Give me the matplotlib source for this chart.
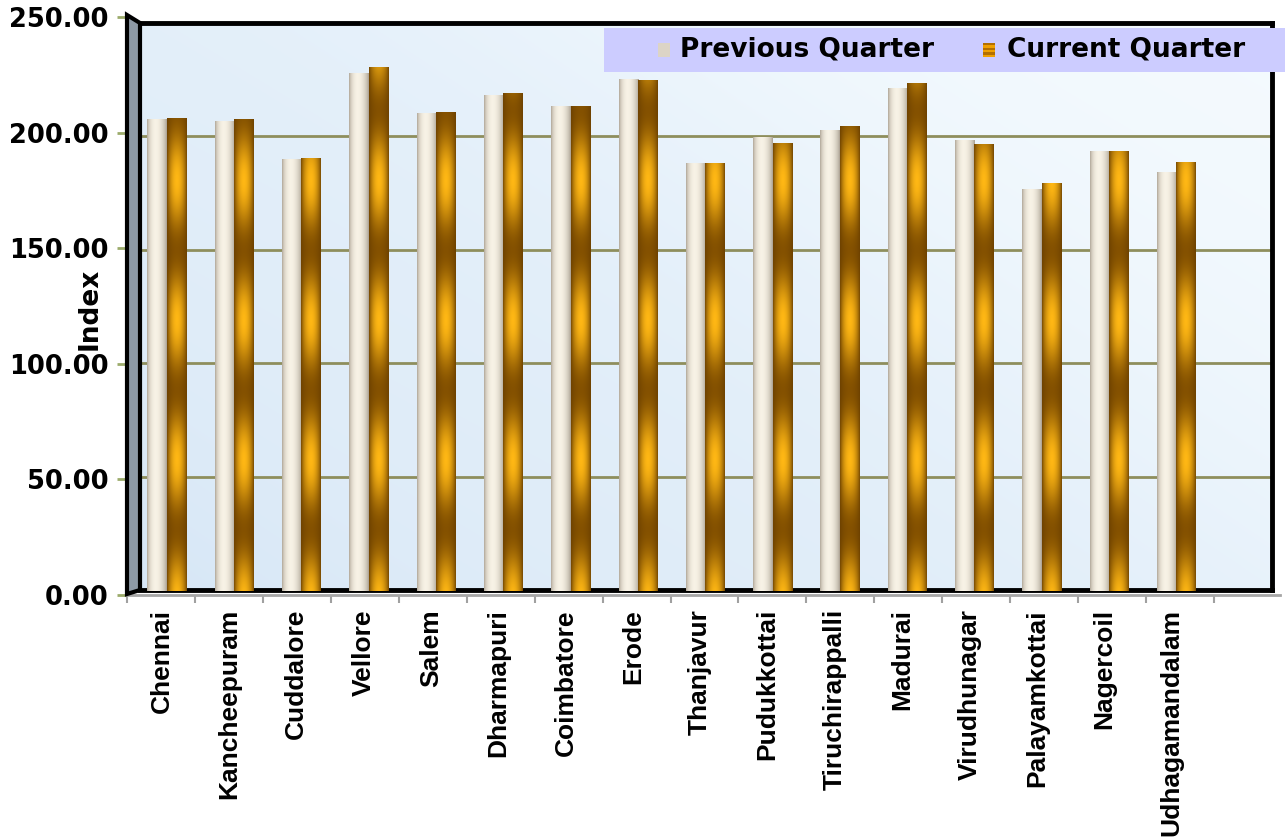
import numpy as np
import matplotlib
matplotlib.use("Agg")
import matplotlib.pyplot as plt
from matplotlib.patches import Polygon, Rectangle
import matplotlib.transforms as mtrans

# ---------------- data ----------------
categories = ["Chennai", "Kancheepuram", "Cuddalore", "Vellore", "Salem",
              "Dharmapuri", "Coimbatore", "Erode", "Thanjavur", "Pudukkottai",
              "Tiruchirappalli", "Madurai", "Virudhunagar", "Palayamkottai",
              "Nagercoil", "Udhagamandalam"]
previous_quarter = [206.2, 205.6, 188.7, 226.3, 208.9, 216.9, 212.0, 223.6,
                    186.9, 198.6, 201.5, 219.7, 197.1, 175.9, 192.4, 183.3]
current_quarter = [206.9, 206.2, 189.1, 229.2, 209.2, 217.8, 212.1, 223.5,
                   187.1, 195.9, 203.4, 222.0, 195.5, 178.2, 192.4, 187.4]
y_ticks = [0, 50, 100, 150, 200, 250]
y_tick_labels = ["0.00", "50.00", "100.00", "150.00", "200.00", "250.00"]
series_names = ["Previous Quarter", "Current Quarter"]
y_title = "Index"

# ---------------- figure ----------------
W, H = 1285, 838
fig = plt.figure(figsize=(W / 100, H / 100), dpi=100)
fig.patch.set_facecolor("white")


def rect(l, t, r, b):
    return [l / W, 1 - b / H, (r - l) / W, (b - t) / H]


def fpt(x, y):
    return (x / W, 1 - y / H)


# back wall
ax_wall = fig.add_axes(rect(140, 23, 1272, 590))
ax_wall.set_xlim(0, 1)
ax_wall.set_ylim(0, 250)
gx = np.linspace(0, 1, 400)
gy = np.linspace(0, 1, 250)
X, Y = np.meshgrid(gx, gy)
m = np.clip(0.15 + 0.45 * X + 0.35 * Y + 0.045 * np.sin(6 * X + 4 * Y), 0, 1)
blue = np.array([0.82, 0.89, 0.96])
white = np.array([0.97, 0.99, 1.0])
bg = blue + (white - blue) * m[..., None]
ax_wall.imshow(bg, extent=(0, 1, 0, 250), origin="lower", aspect="auto",
               zorder=0, interpolation="bilinear")
ax_wall.set_xlim(0, 1)
ax_wall.set_ylim(0, 250)
ax_wall.set_yticks(y_ticks)
ax_wall.grid(axis="y", color="#8E8E5C", lw=2, zorder=1)
ax_wall.tick_params(length=0, labelleft=False, labelbottom=False)
ax_wall.set_xticks([])
for s in ["top", "right", "bottom"]:
    ax_wall.spines[s].set_color("black")
    ax_wall.spines[s].set_linewidth(3.5)
ax_wall.spines["left"].set_visible(False)

# left side wall (3D look)
wall = Polygon([fpt(127, 15), fpt(140, 23), fpt(140, 590), fpt(127, 594)],
               closed=True, transform=fig.transFigure, facecolor="#8E9AA6",
               edgecolor="black", lw=3, zorder=1)
fig.add_artist(wall)

# front axis (ticks & y labels)
ax_front = fig.add_axes(rect(127, 17, 1280, 595))
ax_front.patch.set_alpha(0)
ax_front.set_ylim(0, 250)
ax_front.set_xlim(0, 1153 / 67.94)
ax_front.set_yticks(y_ticks)
ax_front.set_yticklabels(y_tick_labels, fontsize=18.5, fontweight="bold",
                         family="DejaVu Sans")
ax_front.set_xticks(np.arange(17))
ax_front.tick_params(axis="y", color="#9CAB6B", length=7, width=2, pad=6)
ax_front.tick_params(axis="x", color="#A0A0A0", length=6, width=1.5,
                     labelbottom=False)
for s in ["top", "right", "left"]:
    ax_front.spines[s].set_visible(False)
ax_front.spines["bottom"].set_color("#A6A6A6")
ax_front.spines["bottom"].set_linewidth(2)

# bars
ax_bars = fig.add_axes(rect(140, 19, 1272, 591))
ax_bars.patch.set_alpha(0)
x = np.arange(len(categories))
bw = 0.288
bars_prev = ax_bars.bar(x - bw / 2, previous_quarter, bw, color="#E6DECF",
                        zorder=3, label=series_names[0])
bars_cur = ax_bars.bar(x + bw / 2, current_quarter, bw, color="#D08A00",
                       zorder=3, label=series_names[1])


def shade_bar(ax, patch, kind):
    x0 = patch.get_x()
    w = patch.get_width()
    h = patch.get_height()
    nx, ny = 40, 300
    t = (np.arange(nx) + 0.5) / nx
    if kind == "prev":
        f = np.sin(np.pi * t ** 0.85) ** 0.6
        dark = np.array([0.62, 0.58, 0.52])
        light = np.array([0.97, 0.95, 0.90])
        col = dark + (light - dark) * f[None, :, None]
        img = np.repeat(col, ny, axis=0)
    else:
        f = np.sin(np.pi * t) ** 0.7
        v = np.linspace(0, h, ny)
        b = 0.5 + 0.5 * np.cos(2 * np.pi * (v - 179.6) / 61.2)
        bright = np.array([1.0, 0.72, 0.08])
        dband = np.array([0.52, 0.32, 0.0])
        center = dband + (bright - dband) * b[:, None]
        edge = np.array([0.42, 0.25, 0.0])
        img = edge + (center[:, None, :] - edge) * f[None, :, None]
    im = ax.imshow(np.clip(img, 0, 1), extent=(x0, x0 + w, 0, h),
                   origin="lower", aspect="auto", zorder=4,
                   interpolation="bilinear")
    im.set_clip_path(patch)


for p in bars_prev:
    shade_bar(ax_bars, p, "prev")
for p in bars_cur:
    shade_bar(ax_bars, p, "cur")

ax_bars.set_xlim(-0.397, 16.42)
ax_bars.set_ylim(0, 250)
ax_bars.set_yticks([])
ax_bars.set_xticks(x)
ax_bars.set_xticklabels(categories, rotation=90, fontsize=19,
                        fontweight="bold", family="Liberation Sans")
ax_bars.tick_params(axis="x", length=0, pad=13)
off = mtrans.ScaledTranslation(-5 / 100, 0, fig.dpi_scale_trans)
for lbl in ax_bars.get_xticklabels():
    lbl.set_transform(lbl.get_transform() + off)
for s in ax_bars.spines.values():
    s.set_visible(False)

# y title
fig.text(90 / W, 1 - 309 / H, y_title, rotation=90, ha="center", va="center",
         fontsize=19, fontweight="bold", family="DejaVu Sans")

# legend
fig.add_artist(Rectangle(fpt(604, 72), 681 / W, 44 / H, transform=fig.transFigure,
                         facecolor="#CCCCFF", edgecolor="none", zorder=5))
fig.add_artist(Rectangle(fpt(658, 57), 12 / W, 14 / H, transform=fig.transFigure,
                         facecolor="#DCD4C6", edgecolor="none", zorder=6))
stripe_cols = ["#B36F00", "#F0A000"]
for i in range(6):
    fig.add_artist(Rectangle(fpt(983, 43 + (i + 1) * 14 / 6), 12 / W, (14 / 6) / H,
                             transform=fig.transFigure,
                             facecolor=stripe_cols[i % 2], edgecolor="none",
                             zorder=6))
fig.text(680 / W, 1 - 50 / H, series_names[0], ha="left", va="center",
         fontsize=19, fontweight="bold", family="DejaVu Sans", zorder=7)
fig.text(1007 / W, 1 - 50 / H, series_names[1], ha="left", va="center",
         fontsize=19, fontweight="bold", family="DejaVu Sans", zorder=7)

fig.savefig("out.png", dpi=100)
